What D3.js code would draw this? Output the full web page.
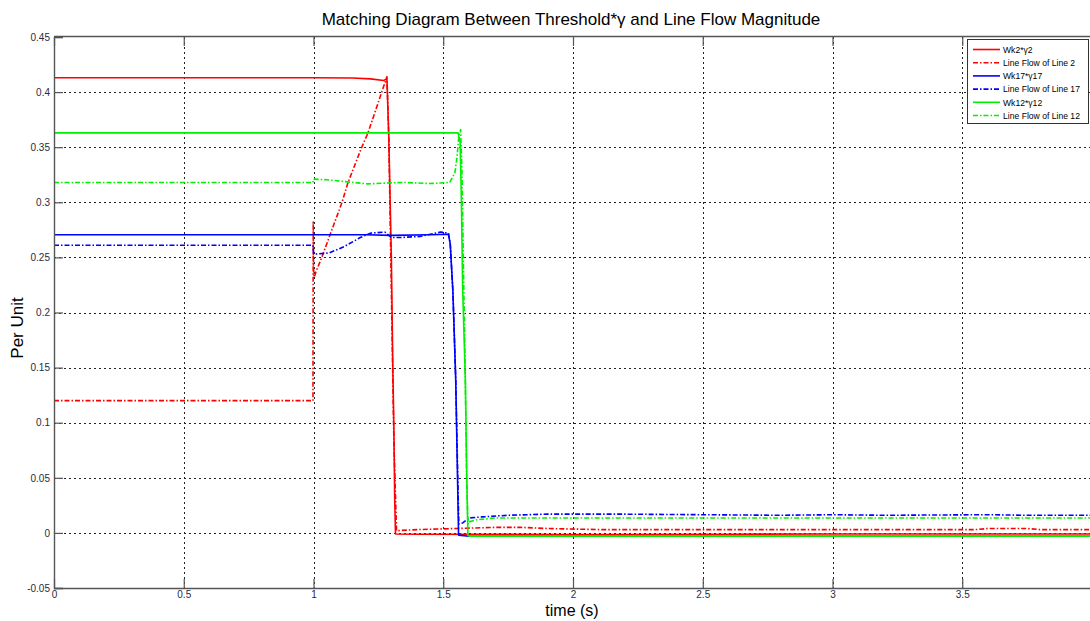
<!DOCTYPE html>
<html>
<head>
<meta charset="utf-8">
<script src="https://cdn.jsdelivr.net/npm/d3@7"></script>
<style>
  html, body { margin: 0; padding: 0; background: #fff; }
  svg { display: block; font-family: Arial, "Liberation Sans", sans-serif; }
</style>
</head>
<body>
<svg id="chart" width="1090" height="621"></svg>
<script>
// Tick values
const xTicks = [0, 0.5, 1, 1.5, 2, 2.5, 3, 3.5];
const xTickLabels = ["0", "0.5", "1", "1.5", "2", "2.5", "3", "3.5"];
const yTicks = [-0.05, 0, 0.05, 0.1, 0.15, 0.2, 0.25, 0.3, 0.35, 0.4, 0.45];
const yTickLabels = ["-0.05", "0", "0.05", "0.1", "0.15", "0.2", "0.25", "0.3", "0.35", "0.4", "0.45"];

// Wk2*gamma2 (threshold, line 2)
const wk2T = [0, 0.5, 1.0, 1.15, 1.22, 1.27, 1.283, 1.29, 1.30, 1.305, 1.31, 1.313, 1.316, 1.4, 2.0, 2.6, 3.0, 3.5, 4.0];
const wk2V = [0.413, 0.413, 0.413, 0.4128, 0.412, 0.4105, 0.412, 0.36, 0.25, 0.16, 0.09, 0.03, -0.001, -0.0012, -0.0015, -0.0012, -0.001, -0.001, -0.001];

// Line flow of line 2
const flow2T = [0, 0.998, 0.999, 1.0, 1.003, 1.008, 1.032, 1.063, 1.11, 1.133, 1.186, 1.21, 1.263, 1.283, 1.29, 1.30, 1.31, 1.32, 1.4, 1.55, 1.7, 1.8, 1.9, 2.1, 2.5, 3.0, 3.55, 3.6, 3.75, 3.8, 4.0];
const flow2V = [0.120, 0.120, 0.282, 0.240, 0.232, 0.236, 0.250, 0.270, 0.300, 0.318, 0.350, 0.363, 0.400, 0.414, 0.36, 0.22, 0.08, 0.002, 0.003, 0.004, 0.005, 0.005, 0.004, 0.003, 0.003, 0.003, 0.003, 0.004, 0.004, 0.003, 0.003];

// Wk17*gamma17 (threshold, line 17)
const wk17T = [0, 1.0, 1.2, 1.3, 1.45, 1.52, 1.527, 1.537, 1.548, 1.555, 1.559, 1.6, 2.0, 3.0, 4.0];
const wk17V = [0.2705, 0.2705, 0.2705, 0.2700, 0.2705, 0.271, 0.262, 0.22, 0.14, 0.05, -0.002, -0.003, -0.003, -0.003, -0.003];

// Line flow of line 17
const flow17T = [0, 0.998, 1.0, 1.003, 1.06, 1.12, 1.18, 1.22, 1.275, 1.3, 1.33, 1.41, 1.45, 1.49, 1.52, 1.527, 1.537, 1.548, 1.556, 1.56, 1.575, 1.6, 1.65, 1.75, 1.9, 2.2, 2.5, 2.8, 3.0, 3.2, 3.6, 3.75, 4.0];
const flow17V = [0.261, 0.261, 0.254, 0.253, 0.254, 0.260, 0.268, 0.272, 0.273, 0.268, 0.268, 0.269, 0.271, 0.273, 0.272, 0.262, 0.22, 0.14, 0.05, 0.008, 0.009, 0.0136, 0.0145, 0.016, 0.017, 0.017, 0.0165, 0.016, 0.0165, 0.016, 0.0165, 0.016, 0.016];

// Wk12*gamma12 (threshold, line 12)
const wk12T = [0, 1.5, 1.557, 1.565, 1.57, 1.575, 1.585, 1.59, 1.595, 1.6, 2.0, 3.0, 4.0];
const wk12V = [0.363, 0.363, 0.363, 0.355, 0.30, 0.22, 0.14, 0.06, -0.002, -0.003, -0.003, -0.003, -0.003];

// Line flow of line 12
const flow12T = [0, 0.998, 1.0, 1.05, 1.21, 1.294, 1.35, 1.45, 1.525, 1.545, 1.553, 1.56, 1.567, 1.572, 1.578, 1.585, 1.59, 1.595, 1.6, 1.63, 1.7, 2.0, 3.0, 4.0];
const flow12V = [0.318, 0.318, 0.321, 0.3205, 0.3167, 0.3176, 0.318, 0.317, 0.318, 0.327, 0.341, 0.360, 0.366, 0.33, 0.24, 0.14, 0.05, 0.008, 0.010, 0.012, 0.0135, 0.0135, 0.0135, 0.0135];

const seriesNames = ["Wk2*\u03b32", "Line Flow of Line 2", "Wk17*\u03b317", "Line Flow of Line 17", "Wk12*\u03b312", "Line Flow of Line 12"];
const seriesColors = ["#ff0000", "#ff0000", "#0000ff", "#0000ff", "#00f000", "#00f000"];
const seriesDashed = [false, true, false, true, false, true];
const seriesT = [wk2T, flow2T, wk17T, flow17T, wk12T, flow12T];
const seriesV = [wk2V, flow2V, wk17V, flow17V, wk12V, flow12V];

const svg = d3.select("#chart");
const plotL = 54, plotT = 37, plotB = 588, plotR = 1092;

const x = d3.scaleLinear().domain([0, 4]).range([plotL, plotR]);
const y = d3.scaleLinear().domain([-0.05, 0.45]).range([plotB, plotT]);

svg.append("defs").append("clipPath").attr("id", "plotClip")
  .append("rect").attr("x", plotL).attr("y", plotT).attr("width", plotR - plotL).attr("height", plotB - plotT);

// Plot background
svg.append("rect").attr("x", plotL).attr("y", plotT).attr("width", plotR - plotL).attr("height", plotB - plotT).attr("fill", "#fff");

// Dotted grid
const grid = svg.append("g").attr("stroke", "#222").attr("stroke-width", 1).attr("stroke-dasharray", "2,3");
grid.selectAll(".gx").data(xTicks.filter(d => d > 0)).join("line")
  .attr("x1", d => Math.round(x(d)) + 0.5).attr("x2", d => Math.round(x(d)) + 0.5)
  .attr("y1", plotT).attr("y2", plotB);
grid.selectAll(".gy").data(yTicks.filter(d => d > -0.05 && d < 0.45)).join("line")
  .attr("x1", plotL).attr("x2", plotR)
  .attr("y1", d => Math.round(y(d)) + 0.5).attr("y2", d => Math.round(y(d)) + 0.5);

// Series
const line = d3.line().x(d => x(d[0])).y(d => y(d[1]));
const plot = svg.append("g").attr("clip-path", "url(#plotClip)");
seriesNames.forEach((name, i) => {
  const pts = seriesT[i].map((t, j) => [t, seriesV[i][j]]);
  plot.append("path").datum(pts)
    .attr("d", line)
    .attr("fill", "none")
    .attr("stroke", seriesColors[i])
    .attr("stroke-width", 1.6)
    .attr("stroke-linejoin", "round")
    .attr("stroke-dasharray", seriesDashed[i] ? "5,2,1.5,2" : null);
});

// Axes
const axisColor = "#555";
const xAxis = svg.append("g").attr("transform", `translate(0,${plotB})`)
  .call(d3.axisBottom(x).tickValues(xTicks).tickFormat((d, i) => xTickLabels[i]).tickSize(-9).tickPadding(3));
const xTop = svg.append("g").attr("transform", `translate(0,${plotT})`)
  .call(d3.axisTop(x).tickValues(xTicks).tickFormat("").tickSize(-9));
const yAxis = svg.append("g").attr("transform", `translate(${plotL},0)`)
  .call(d3.axisLeft(y).tickValues(yTicks).tickFormat((d, i) => yTickLabels[i]).tickSize(-9).tickPadding(4));
[xAxis, xTop, yAxis].forEach(g => {
  g.select(".domain").attr("stroke", axisColor).attr("stroke-width", 1.4);
  g.selectAll(".tick line").attr("stroke", axisColor).attr("stroke-width", 1.2);
  g.selectAll(".tick text").attr("fill", "#2b2b3b").attr("font-size", 10).attr("font-family", "Arial, 'Liberation Sans', sans-serif");
});
xAxis.select(".domain").attr("d", `M${plotL},0.5H${plotR}`);
xTop.select(".domain").attr("d", `M${plotL},-0.5H${plotR}`);

// Title and axis labels
svg.append("text").attr("x", 571).attr("y", 25).attr("text-anchor", "middle")
  .attr("font-size", 17).attr("fill", "#000")
  .text("Matching Diagram Between Threshold*\u03b3 and Line Flow Magnitude");
svg.append("text").attr("x", 572).attr("y", 616).attr("text-anchor", "middle")
  .attr("font-size", 16).attr("fill", "#000").text("time (s)");
svg.append("text").attr("transform", "translate(23,328) rotate(-90)").attr("text-anchor", "middle")
  .attr("font-size", 17).attr("fill", "#000").text("Per Unit");

// Legend
const lg = svg.append("g");
lg.append("rect").attr("x", 967.5).attr("y", 39.5).attr("width", 121).attr("height", 84)
  .attr("fill", "#fff").attr("stroke", "#333").attr("stroke-width", 1);
seriesNames.forEach((name, i) => {
  const yy = 49.5 + i * 13.2;
  lg.append("line").attr("x1", 973).attr("x2", 1000).attr("y1", yy).attr("y2", yy)
    .attr("stroke", seriesColors[i]).attr("stroke-width", 1.6)
    .attr("stroke-dasharray", seriesDashed[i] ? "5,2,1.5,2" : null);
  lg.append("text").attr("x", 1003).attr("y", yy + 3.2).attr("font-size", 8.6).attr("fill", "#000").text(name);
});
</script>
</body>
</html>
